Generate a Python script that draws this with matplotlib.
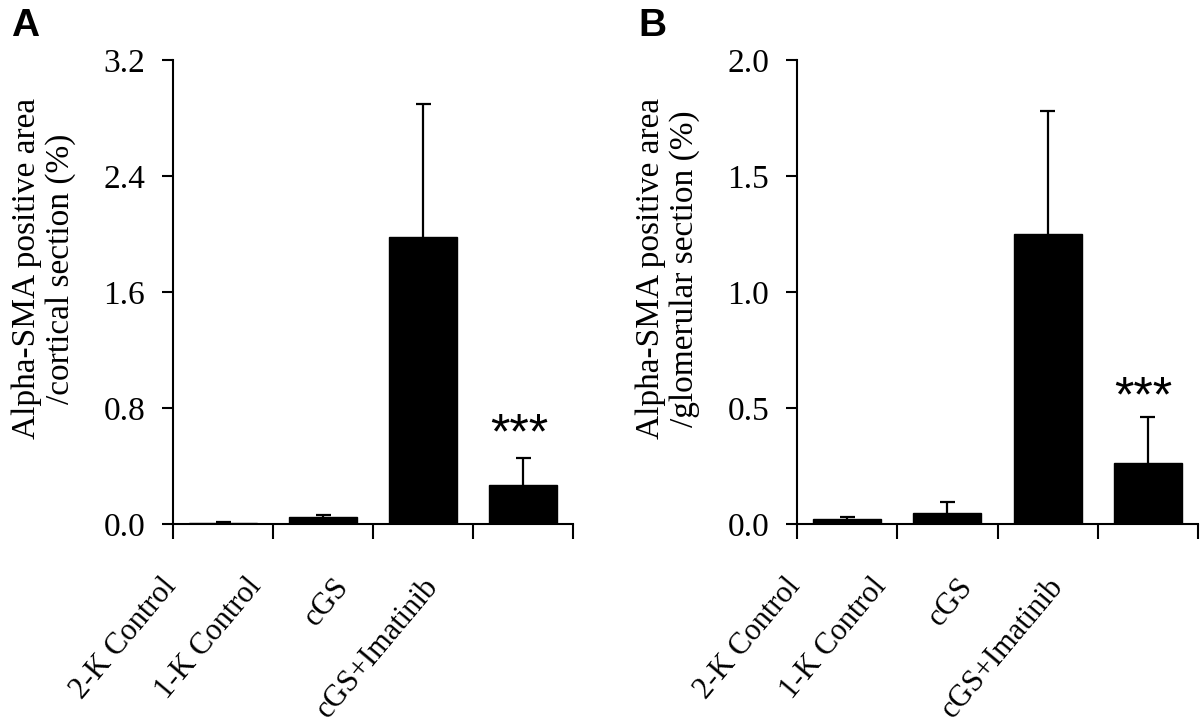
import matplotlib
matplotlib.use("Agg")
import matplotlib.pyplot as plt
import matplotlib.transforms as mtransforms

categories = ["2-K Control", "1-K Control", "cGS", "cGS+Imatinib"]

a_values = [0.005, 0.05, 1.98, 0.27]
a_errors = [0.01, 0.014, 0.92, 0.185]
a_yticks = [0.0, 0.8, 1.6, 2.4, 3.2]
a_ylabel = "Alpha-SMA positive area\n/cortical section (%)"

b_values = [0.02, 0.048, 1.25, 0.262]
b_errors = [0.01, 0.046, 0.53, 0.20]
b_yticks = [0.0, 0.5, 1.0, 1.5, 2.0]
b_ylabel = "Alpha-SMA positive area\n/glomerular section (%)"

sig_label = "***"

plt.rcParams["font.family"] = ["Liberation Serif", "DejaVu Serif"]

fig = plt.figure(figsize=(12, 7.27), dpi=100)
W, H = 1200, 727

def px_axes(left, right, top, bottom):
    return fig.add_axes([left / W, 1 - bottom / H, (right - left) / W, (bottom - top) / H])

axA = px_axes(173, 573, 60, 524)
axB = px_axes(797, 1198, 60, 524)

label_x = [0.10, 0.95, 1.82, 2.72]

def draw(ax, values, errors, yticks, ylabel, letter, letter_px, star_dy):
    x = [i + 0.5 for i in range(len(values))]
    ax.bar(x, values, width=0.68, color="black", edgecolor="black", zorder=2)
    tops = [v + e for v, e in zip(values, errors)]
    ax.vlines(x, values, tops, color="black", linewidth=1.6, zorder=1)
    ax.hlines(tops, [xi - 0.075 for xi in x], [xi + 0.075 for xi in x],
              color="black", linewidth=1.6, zorder=1)
    ax.set_xlim(0, len(values))
    ax.set_ylim(yticks[0], yticks[-1])
    ax.set_yticks(yticks)
    ax.set_yticklabels([f"{t:.1f}" for t in yticks], fontsize=24)
    ax.set_xticks(range(len(values) + 1))
    ax.set_xticklabels([])
    for s in ["top", "right"]:
        ax.spines[s].set_visible(False)
    for s in ["left", "bottom"]:
        ax.spines[s].set_linewidth(1.5)
    ax.tick_params(axis="y", direction="out", length=8, width=1.5, pad=12)
    ax.tick_params(axis="x", direction="out", length=11, width=1.5)
    ax.set_ylabel(ylabel, fontsize=24, linespacing=1.1, labelpad=20)
    ax.yaxis.label.set_y(0.55)
    trans = mtransforms.blended_transform_factory(ax.transData, ax.transAxes)
    for lx, cat in zip(label_x, categories):
        ax.text(lx, -0.105, cat, transform=trans, rotation=50, ha="right", va="top",
                fontsize=22)
    ax.annotate(sig_label, xy=(x[-1], tops[-1]), xytext=(-3, star_dy),
                textcoords="offset points", ha="center", va="baseline",
                fontsize=36, family=["Liberation Sans"])
    fig.text(letter_px / W, 1 - 8 / H, letter, fontsize=28, fontweight="bold",
             family=["Liberation Sans"], ha="left", va="top")

draw(axA, a_values, a_errors, a_yticks, a_ylabel, "A", 11, 7)
draw(axB, b_values, b_errors, b_yticks, b_ylabel, "B", 638, 4)

fig.savefig("out.png", dpi=100)
